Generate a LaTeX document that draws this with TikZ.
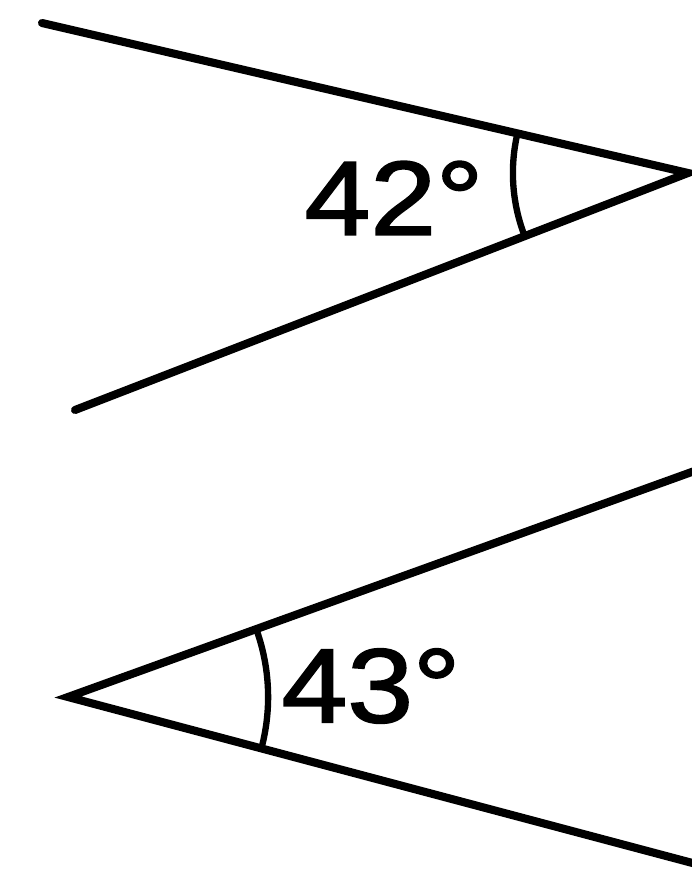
\documentclass[tikz,border=0pt]{standalone}
\usepackage{fontspec}
\setmainfont{Liberation Sans}
\newfontfamily\lblfont[FakeBold=1.6]{Liberation Sans}
\usetikzlibrary{angles}
\begin{document}
\begin{tikzpicture}[x=0.01cm,y=-0.01cm,
  ray/.style={line width=2.3pt,line cap=round,line join=miter},
  arcmark/.style={draw,line width=1.8pt},
  lbl/.style={inner sep=0pt,font=\lblfont\fontsize{30}{36}\selectfont}]
\useasboundingbox (0,0) rectangle (691,888);
% top angle
\coordinate (V1) at (688,173);
\coordinate (A1) at (42,23);
\coordinate (B1) at (75,410);
\draw[ray] (A1) -- (V1) -- (B1);
\pic[arcmark, angle radius=1.75cm] {angle = A1--V1--B1};
\node[lbl] (t1) at (394,198) {\scalebox{1.12}[1]{42°}};
% bottom angle
\coordinate (V2) at (68,697);
\coordinate (A2) at (700,469);
\coordinate (B2) at (700,865);
\draw[ray] (A2) -- (V2) -- (B2);
\pic[arcmark, angle radius=2cm] {angle = B2--V2--A2};
\node[lbl] (t2) at (371,686) {\scalebox{1.12}[1]{43°}};
\end{tikzpicture}
\end{document}
